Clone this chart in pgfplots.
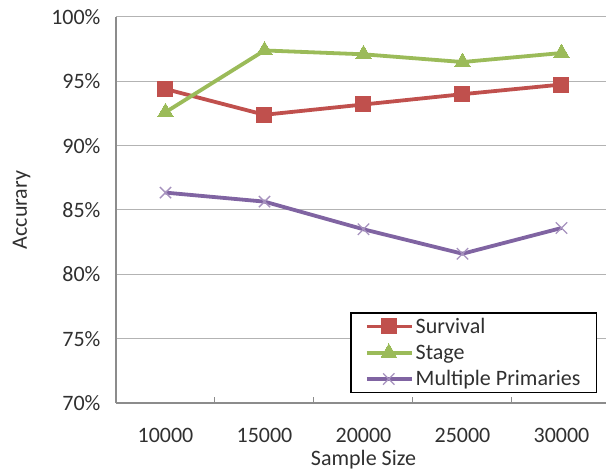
\documentclass[border=0pt]{standalone}
\usepackage{pgfplots}
\pgfplotsset{compat=1.18}
\usepackage{fontspec}
\setmainfont{Carlito}
\definecolor{cSurv}{HTML}{C0504D}
\definecolor{cStage}{HTML}{9BBB59}
\definecolor{cMult}{HTML}{8064A2}
\definecolor{cGrid}{HTML}{B3B3B3}
\definecolor{cAxis}{HTML}{8C8C8C}
\definecolor{cText}{HTML}{303030}
\begin{document}
\begin{tikzpicture}[x=1pt,y=1pt]
\useasboundingbox (-116,-67) rectangle (490,403);
\begin{axis}[
  at={(0,0)}, anchor=south west,
  scale only axis, width=495pt, height=386pt,
  xmin=-0.5, xmax=4.5, ymin=70, ymax=100,
  axis x line=bottom, axis y line=left,
  axis line style={cAxis, line width=1.2pt, -},
  xtick={0,1,2,3,4},
  xticklabels={10000,15000,20000,25000,30000},
  minor xtick={0.5,1.5,2.5,3.5},
  major x tick style={draw=none},
  minor x tick style={cAxis, line width=1pt},
  minor tick length=6pt,
  tick align=inside,
  ytick={70,75,80,85,90,95,100},
  yticklabels={70\%,75\%,80\%,85\%,90\%,95\%,100\%},
  major y tick style={draw=none},
  ymajorgrids, grid style={cGrid, line width=1pt},
  tick label style={font=\fontsize{22}{26}\selectfont, text=cText},
  yticklabel style={xshift=-12pt},
  xticklabel style={yshift=-22pt},
  xlabel={Sample Size}, ylabel={Accurary},
  label style={font=\fontsize{22}{26}\selectfont, text=cText},
  xlabel style={yshift=0pt},
  ylabel style={yshift=14pt},
  legend style={at={(rel axis cs:0.9717,0.0259)}, anchor=south east,
    draw=black, line width=1.2pt, font=\fontsize{22}{27}\selectfont, text=cText,
    inner xsep=14pt, inner ysep=3pt, row sep=6pt, cells={anchor=west}},
  legend image code/.code={%
    \draw[mark repeat=2, mark phase=2] plot coordinates {(0pt,0pt) (22pt,0pt) (45pt,0pt)};},
  legend cell align=left,
  clip=false,
]
\addplot[cSurv, line width=3.8pt, mark=square*, mark size=7.5pt, mark options={line width=0pt, fill=cSurv, draw=cSurv}]
  coordinates {(0,94.4) (1,92.4) (2,93.2) (3,94.0) (4,94.75)};
\addlegendentry{Survival}
\addplot[cStage, line width=3.8pt, mark=triangle*, mark size=9pt, mark options={line width=0pt, fill=cStage, draw=cStage}]
  coordinates {(0,92.6) (1,97.4) (2,97.1) (3,96.5) (4,97.2)};
\addlegendentry{Stage}
\addplot[cMult, line width=3.8pt, mark=x, mark size=8pt, mark options={line width=1.3pt, draw=cMult!70}]
  coordinates {(0,86.35) (1,85.65) (2,83.5) (3,81.6) (4,83.6)};
\addlegendentry{Multiple Primaries}
\end{axis}
\end{tikzpicture}
\end{document}
